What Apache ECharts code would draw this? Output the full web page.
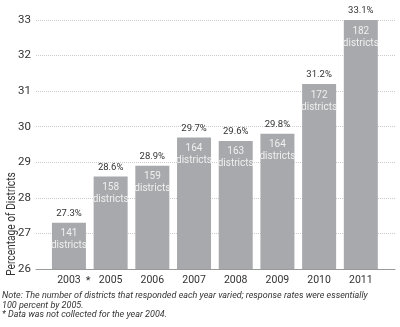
<!DOCTYPE html>
<html><head><meta charset="utf-8">
<script src="https://cdn.jsdelivr.net/npm/echarts@6/dist/echarts.min.js"></script>
<style>html,body{margin:0;padding:0;background:#fff}#c{width:400px;height:327px}</style>
</head><body><div id="c"></div>
<script>
var categories = ['2003', '2005', '2006', '2007', '2008', '2009', '2010', '2011'];
var percentValues = [27.3, 28.6, 28.9, 29.7, 29.6, 29.8, 31.2, 33.1];
var districtCounts = [141, 158, 159, 164, 163, 164, 172, 182];
var yTicks = [26, 27, 28, 29, 30, 31, 32, 33];

var FONT = '"Liberation Sans Narrow", "Roboto", sans-serif';
var chart = echarts.init(document.getElementById('c'), null, {renderer: 'canvas'});
var data = percentValues.map(function (v, i) { return [i, v]; });
chart.setOption({
  animation: false,
  grid: {left: 36, right: 5, top: 20, bottom: 58, containLabel: false},
  xAxis: {
    type: 'value', min: -0.79, max: 7.82, interval: 1,
    splitLine: {show: false},
    axisTick: {show: false},
    axisLine: {show: true, lineStyle: {color: '#9a9a9a', width: 1}},
    axisLabel: {
      color: '#333', fontFamily: FONT, fontSize: 10.5, margin: 6,
      customValues: categories.map(function (c, i) { return i; }),
      formatter: function (v) { return categories[Math.round(v)] || ''; }
    }
  },
  yAxis: {
    type: 'value', min: yTicks[0], max: yTicks[yTicks.length - 1], interval: 1,
    axisLine: {show: false}, axisTick: {show: false},
    axisLabel: {color: '#333', fontFamily: FONT, fontSize: 11.5, margin: 5},
    splitLine: {lineStyle: {color: '#cccccc', type: [1, 1], width: 1}}
  },
  series: [{
    type: 'bar', data: data, barWidth: 34,
    itemStyle: {color: '#a8a9ac'},
    label: {
      show: true, position: 'insideTop', distance: 5,
      color: '#f0f0f0', fontFamily: FONT, fontSize: 10, lineHeight: 12,
      formatter: function (p) { return districtCounts[p.dataIndex] + '\ndistricts'; }
    }
  }, {
    type: 'bar', data: data, barWidth: 34, barGap: '-100%',
    itemStyle: {color: 'rgba(0,0,0,0)'},
    label: {
      show: true, position: 'top', distance: 4,
      color: '#333', fontFamily: FONT, fontSize: 9.5,
      formatter: function (p) { return percentValues[p.dataIndex].toFixed(1) + '%'; }
    }
  }],
  graphic: [
    {type: 'text', x: 12, y: 224, rotation: Math.PI / 2, scaleX: 0.85, style: {text: 'Percentage of Districts', font: '12px ' + FONT, fill: '#333', align: 'center', verticalAlign: 'middle'}},
    {type: 'text', x: 88, y: 276, style: {text: '*', font: '11px ' + FONT, fill: '#333', align: 'center', verticalAlign: 'top'}},
    {type: 'text', x: 2, y: 291, style: {text: 'Note: The number of districts that responded each year varied; response rates were essentially\n100 percent by 2005.\n* Data was not collected for the year 2004.', font: 'italic 9px ' + FONT, fill: '#333', lineHeight: 9.5}}
  ]
});
</script></body></html>
